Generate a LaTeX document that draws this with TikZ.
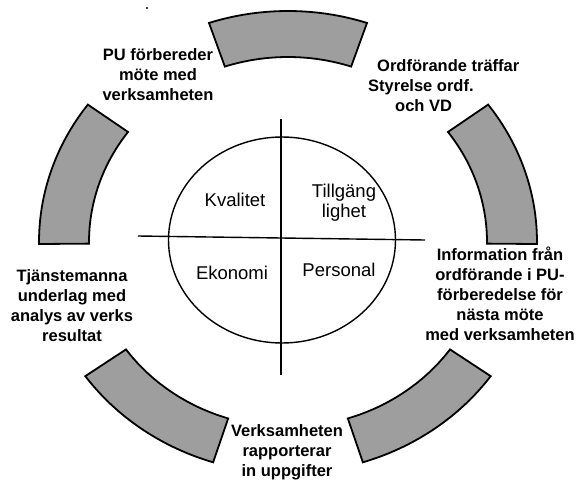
\documentclass[tikz,border=0pt]{standalone}
\usepackage{fontspec}
\setmainfont{Liberation Sans}
\begin{document}
\begin{tikzpicture}[x=1pt,y=-1pt,
  seg/.style={draw=black, line width=1.8pt, fill=black!38, line join=miter},
  lbl/.style={font=\bfseries\fontsize{16.5}{20}\selectfont, align=center, inner sep=0pt},
  inlbl/.style={font=\fontsize{18.5}{20}\selectfont, align=center, inner sep=0pt},
  axis/.style={line width=1.4pt}
]
\useasboundingbox (0,0) rectangle (579,480);
\def\cx{288}\def\cy{242}
\def\ro{249}\def\rro{231}
\def\ri{199}\def\rri{185}
\def\hs{18.5}
% ring segments
\foreach \c in {90,18,162,234,306}{
  \path[seg] plot[domain={\c-\hs}:{\c+\hs}, samples=40] ({\cx+\ro*cos(\x)},{\cy-\rro*sin(\x)})
    -- plot[domain={\c+\hs}:{\c-\hs}, samples=40] ({\cx+\ri*cos(\x)},{\cy-\rri*sin(\x)}) -- cycle;
}
% inner ellipse
\draw[line width=1.4pt] (282,240) ellipse [x radius=113.5pt, y radius=103pt];
% cross
\coordinate (vt) at (281,119);
\coordinate (vb) at (281,375);
\coordinate (hl) at (138,236);
\coordinate (hr) at (425,240);
\draw[axis] (vt) -- (vb);
\draw[axis] (hl) -- (hr);
% dot
\fill (147,8) circle (1.2pt);
% inner labels
\node[inlbl] (kval) at (235,200) {Kvalitet};
\node[inlbl] (till) at (344,203) {Tillgäng\\lighet};
\node[inlbl] (ekon) at (232,273) {Ekonomi};
\node[inlbl] (pers) at (339,270) {Personal};
% outer labels
\node[lbl] (pu) at (158,75) {PU förbereder\\möte med\\verksamheten};
\node[lbl, anchor=west, align=left] (ord) at (368,86) {\hspace*{9pt}Ordförande träffar\\Styrelse ordf.\\\hspace*{27pt}och VD};
\node[lbl] (info) at (500,294) {Information från\\ordförande i PU-\\förberedelse för\\nästa möte\\med verksamheten};
\node[lbl] (tjan) at (72,306) {Tjänstemanna\\underlag med\\analys av verks\\resultat};
\node[lbl] (verk) at (287,452) {Verksamheten\\rapporterar\\in uppgifter};
\end{tikzpicture}
\end{document}
